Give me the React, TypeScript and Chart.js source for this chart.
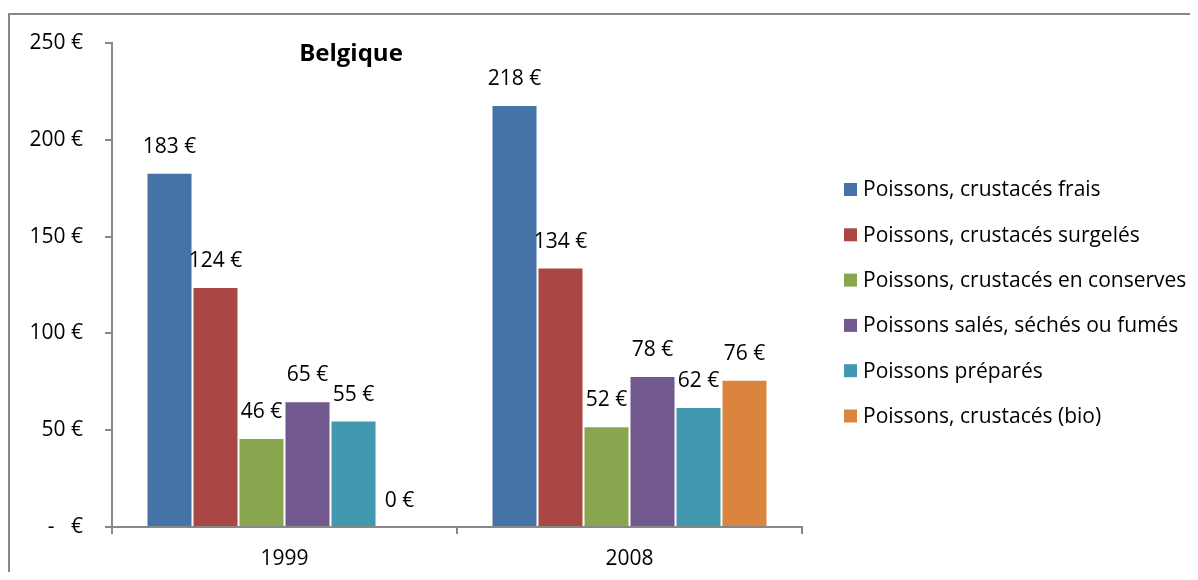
import React, { useEffect, useRef } from "react";
import { Chart, registerables } from "chart.js";

Chart.register(...registerables);

const categories = ["1999", "2008"];
const seriesNames = [
  "Poissons, crustacés frais",
  "Poissons, crustacés surgelés",
  "Poissons, crustacés en conserves",
  "Poissons salés, séchés ou fumés",
  "Poissons préparés",
  "Poissons, crustacés (bio)",
];
const frais = [183, 218];
const surgeles = [124, 134];
const conserves = [46, 52];
const sales = [65, 78];
const prepares = [55, 62];
const bio = [0, 76];
const seriesColors = ["#4572A7", "#AA4643", "#89A54E", "#71588F", "#4198AF", "#DB843D"];
const yTicks = [0, 50, 100, 150, 200, 250];
const chartTitle = "Belgique";

const FONT = "'Open Sans', 'DejaVu Sans', sans-serif";

const fmt = (v: number) => (v === 0 ? "-   €" : `${v} €`);

const dataLabels = {
  id: "dataLabels",
  afterDatasetsDraw(chart: any) {
    const ctx = chart.ctx;
    ctx.save();
    ctx.font = `21px ${FONT}`;
    ctx.fillStyle = "#000";
    ctx.textAlign = "center";
    ctx.textBaseline = "middle";
    chart.data.datasets.forEach((ds: any, di: number) => {
      const meta = chart.getDatasetMeta(di);
      meta.data.forEach((bar: any, i: number) => {
        ctx.fillText(`${ds.data[i]} €`, bar.x, bar.y - 26);
      });
    });
    ctx.restore();
  },
};

const innerTitle = {
  id: "innerTitle",
  afterDraw(chart: any) {
    const { ctx, chartArea } = chart;
    ctx.save();
    ctx.font = `bold 24px ${FONT}`;
    ctx.fillStyle = "#000";
    ctx.textAlign = "center";
    ctx.textBaseline = "middle";
    ctx.fillText(chartTitle, chartArea.left + 239, chartArea.top + 11);
    ctx.restore();
  },
};

const sideLegend = {
  id: "sideLegend",
  afterDraw(chart: any) {
    const { ctx, chartArea } = chart;
    const x = chartArea.right + 42;
    const y0 = chartArea.top + 146.5;
    const step = 45.3;
    ctx.save();
    ctx.font = `21px ${FONT}`;
    ctx.textAlign = "left";
    ctx.textBaseline = "middle";
    chart.data.datasets.forEach((ds: any, i: number) => {
      const y = y0 + i * step;
      ctx.fillStyle = ds.backgroundColor;
      ctx.fillRect(x, y - 6.5, 13, 13);
      ctx.fillStyle = "#000";
      ctx.fillText(ds.label, x + 19, y + 1);
    });
    ctx.restore();
  },
};

export default function App() {
  const ref = useRef<HTMLCanvasElement | null>(null);
  useEffect(() => {
    if (!ref.current) return;
    const values = [frais, surgeles, conserves, sales, prepares, bio];
    const chart = new Chart(ref.current, {
      type: "bar",
      data: {
        labels: categories,
        datasets: seriesNames.map((name, i) => ({
          label: name,
          data: values[i],
          backgroundColor: seriesColors[i],
          borderColor: "rgba(255,255,255,0.12)",
          borderWidth: 1,
          categoryPercentage: 0.8,
          barPercentage: 1,
        })),
      },
      options: {
        responsive: false,
        animation: false,
        layout: { padding: { left: 0, top: 28, right: 396, bottom: 0 } },
        plugins: {
          legend: { display: false },
          title: { display: false },
          tooltip: { enabled: false },
        },
        scales: {
          x: {
            offset: true,
            grid: {
              offset: true,
              drawOnChartArea: false,
              drawTicks: true,
              tickLength: 7,
              color: "#888888",
              lineWidth: 2,
            },
            border: { display: true, color: "#888888", width: 2 },
            ticks: { color: "#000", font: { family: FONT, size: 21 }, padding: 12 },
            afterFit: (s: any) => {
              s.height = 45;
              s.paddingLeft = 0;
              s.paddingRight = 0;
            },
          },
          y: {
            min: 0,
            max: 250,
            afterBuildTicks: (s: any) => {
              s.ticks = yTicks.map((v) => ({ value: v }));
            },
            grid: {
              drawOnChartArea: false,
              drawTicks: true,
              tickLength: 7,
              color: "#888888",
              lineWidth: 2,
            },
            border: { display: true, color: "#888888", width: 2 },
            ticks: {
              color: "#000",
              font: { family: FONT, size: 21 },
              padding: 22,
              callback: (v: any) => fmt(Number(v)),
            },
            afterFit: (s: any) => {
              s.width = 102;
              s.paddingTop = 0;
              s.paddingBottom = 0;
            },
          },
        },
      },
      plugins: [dataLabels, innerTitle, sideLegend],
    });
    return () => chart.destroy();
  }, []);
  return (
    <div
      style={{
        marginTop: 5,
        marginRight: -8,
        width: 1190,
        height: 559,
        borderTop: "2px solid #878787",
        borderLeft: "2px solid #878787",
        boxSizing: "border-box",
        overflow: "hidden",
      }}
    >
      <canvas ref={ref} width={1188} height={557} style={{ display: "block" }} />
    </div>
  );
}
